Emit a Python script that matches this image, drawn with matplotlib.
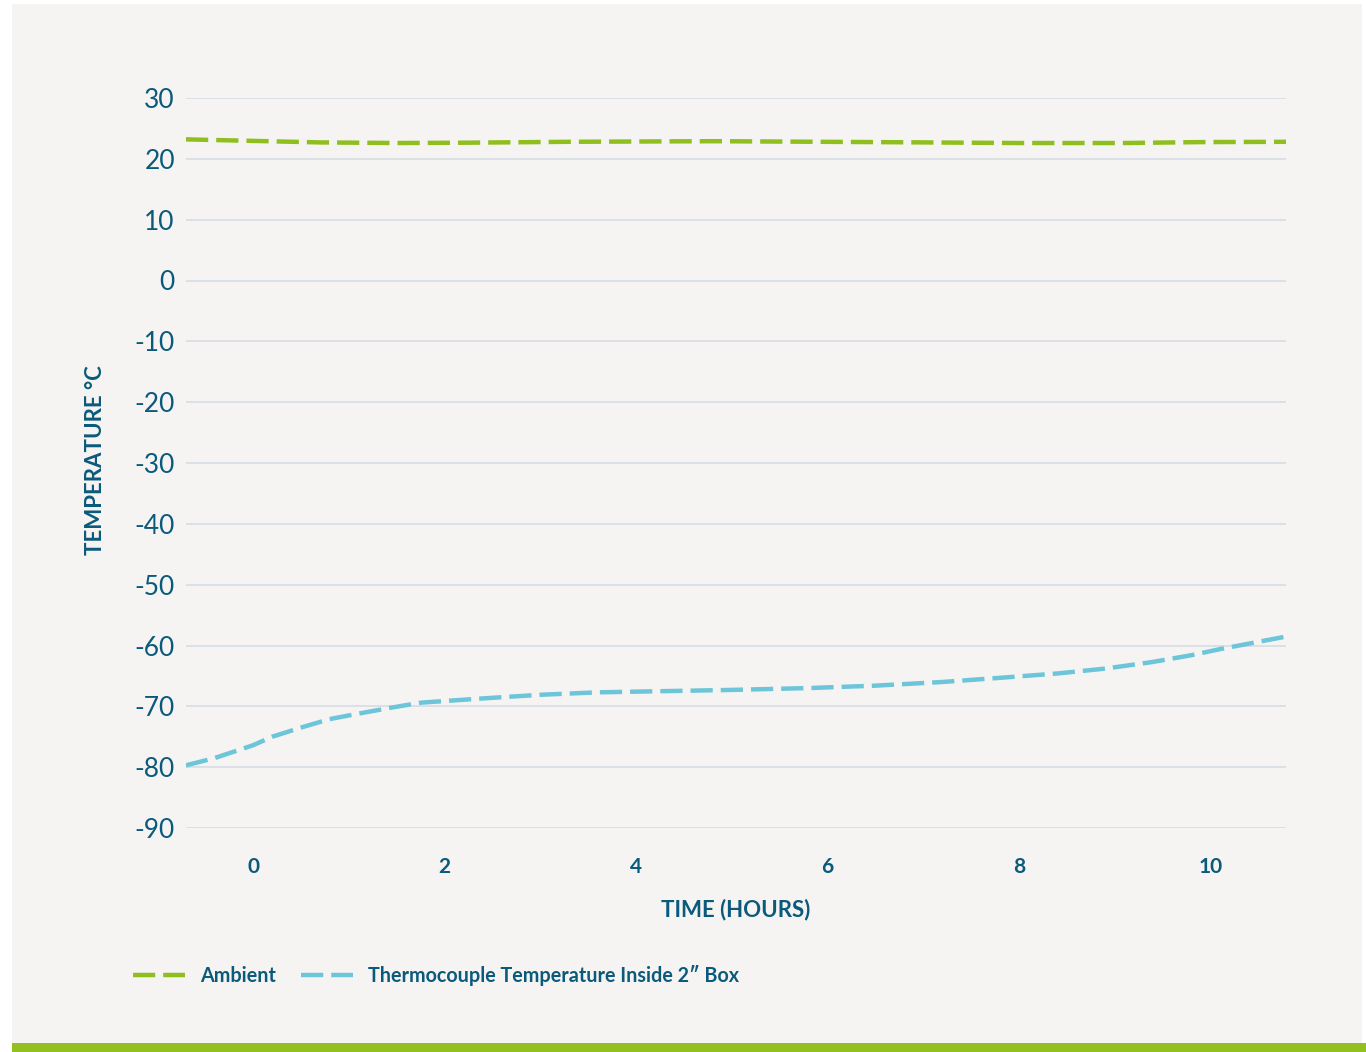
import matplotlib.pyplot as plt
from matplotlib.patches import Rectangle
from matplotlib.lines import Line2D

# Ambient temperature (hours, degC)
ambient_h = [-0.7, 0.0, 0.7, 1.5, 2.2, 3.3, 4.8, 6.5, 8.0, 9.1, 9.9, 10.8]
ambient = [23.2, 22.95, 22.7, 22.6, 22.65, 22.8, 22.9, 22.75, 22.6, 22.6, 22.75, 22.8]

# Thermocouple inside 2" box (hours, degC)
thermo_h = [-0.7, -0.4, 0.0, 0.2, 0.5, 0.8, 1.1, 1.45, 1.75, 2.4, 3.0, 3.6, 4.3,
            5.0, 5.8, 6.5, 7.2, 7.9, 8.4, 8.9, 9.4, 9.8, 10.1, 10.4, 10.8]
thermo = [-79.7, -78.5, -76.4, -75.0, -73.5, -72.1, -71.2, -70.2, -69.4, -68.7, -68.1, -67.7, -67.5,
          -67.3, -67.0, -66.6, -66.0, -65.2, -64.6, -63.8, -62.7, -61.6, -60.6, -59.7, -58.5]

x_ticks = [0, 2, 4, 6, 8, 10]
y_ticks = [30, 20, 10, 0, -10, -20, -30, -40, -50, -60, -70, -80, -90]

text_col = '#0b5a7b'
green = '#8fbe1f'
cyan = '#6cc5d9'
dash = (5.0, 1.8)

plt.rcParams['font.family'] = ['Lato', 'DejaVu Sans']
plt.rcParams['axes.unicode_minus'] = False

W, H = 1366, 1052
fig = plt.figure(figsize=(W / 100, H / 100), dpi=100, facecolor='white')

# background panel and green bottom strip
fig.patches.append(Rectangle((12 / W, 1 - 1043 / H), 1350 / W, 1039 / H,
                             transform=fig.transFigure, facecolor='#f5f4f2', edgecolor='none', zorder=-10))
fig.patches.append(Rectangle((12 / W, 0), 1354 / W, 9 / H,
                             transform=fig.transFigure, facecolor='#93bf1f', edgecolor='none', zorder=-10))

ax = fig.add_axes([186 / W, 1 - 828 / H, 1100 / W, 730 / H])
ax.set_facecolor('none')

ax.plot(ambient_h, ambient, color=green, lw=3.2, dashes=dash)
ax.plot(thermo_h, thermo, color=cyan, lw=3.2, dashes=dash)

ax.set_xlim(-0.7, 10.79)
ax.set_ylim(-90, 30)
ax.set_xticks(x_ticks)
ax.set_yticks(y_ticks)
ax.yaxis.grid(True, color='#d4d9e3', lw=1.1)
ax.set_axisbelow(True)
for s in ax.spines.values():
    s.set_visible(False)

ax.tick_params(axis='y', length=0, pad=8, labelsize=19, labelcolor=text_col)
ax.tick_params(axis='x', length=0, pad=21, labelsize=15, labelcolor=text_col)
for lab in ax.get_xticklabels():
    lab.set_fontweight('bold')

fig.text(95 / W, 1 - 460 / H, 'TEMPERATURE °C', rotation=90, ha='center', va='center',
         fontsize=16, fontweight='bold', color=text_col)
fig.text(736 / W, 1 - 910 / H, 'TIME (HOURS)', ha='center', va='center',
         fontsize=16, fontweight='bold', color=text_col)

handles = [Line2D([], [], color=green, lw=3.2, dashes=dash),
           Line2D([], [], color=cyan, lw=3.2, dashes=dash)]
labels = ['Ambient', 'Thermocouple Temperature Inside 2\u2033 Box']
leg = fig.legend(handles, labels, loc='center left', bbox_to_anchor=(133 / W, 1 - 975 / H),
                 ncol=2, frameon=False, handlelength=2.65, handletextpad=0.75, columnspacing=1.25,
                 borderpad=0, borderaxespad=0, prop={'size': 14.2, 'weight': 'bold'})
for t in leg.get_texts():
    t.set_color(text_col)

fig.savefig('out.png', dpi=100, facecolor='white')
